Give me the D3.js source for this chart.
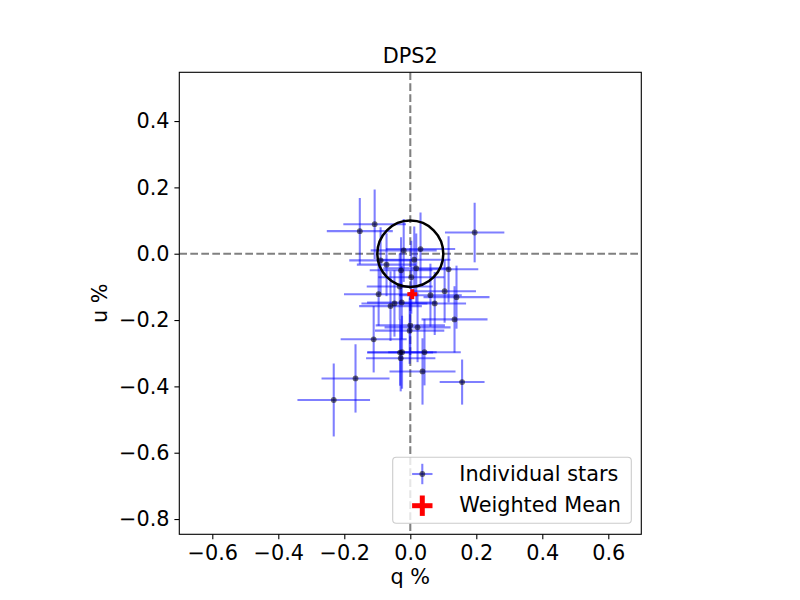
<!DOCTYPE html>
<html>
<head>
<meta charset="utf-8">
<script src="https://cdn.jsdelivr.net/npm/d3@7"></script>
<style>
  body { margin: 0; background: #fff; }
  text { font-family: "DejaVu Sans", sans-serif; }
</style>
</head>
<body>
<div id="chart"></div>
<script>
// star polarisation values (q %, u %) with 1-sigma errors
var qVals = [-0.108, -0.153, 0.195, -0.020, 0.031, -0.090, -0.072, 0.012, 0.018, -0.028,
             0.003, 0.116, -0.096, 0.104, 0.061, 0.140, -0.032, -0.060, -0.048, -0.026,
             0.074, 0.134, 0.000, 0.022, -0.002, -0.111, -0.031, -0.025, 0.043, -0.029,
             0.037, 0.157, -0.166, -0.232];
var uVals = [0.089, 0.068, 0.064, 0.010, 0.014, -0.020, -0.033, -0.018, -0.044, -0.050,
             -0.071, -0.047, -0.122, -0.113, -0.125, -0.131, -0.099, -0.158, -0.150, -0.147,
             -0.150, -0.198, -0.216, -0.222, -0.232, -0.258, -0.298, -0.297, -0.297, -0.315,
             -0.355, -0.387, -0.376, -0.441];
var qErr = [0.095, 0.100, 0.090, 0.100, 0.105, 0.095, 0.090, 0.110, 0.100, 0.095,
            0.100, 0.090, 0.105, 0.095, 0.095, 0.100, 0.100, 0.095, 0.100, 0.105,
            0.095, 0.100, 0.105, 0.100, 0.105, 0.100, 0.100, 0.105, 0.110, 0.105,
            0.100, 0.068, 0.103, 0.110];
var uErr = [0.105, 0.100, 0.090, 0.095, 0.110, 0.100, 0.095, 0.100, 0.105, 0.100,
            0.110, 0.100, 0.095, 0.095, 0.095, 0.095, 0.100, 0.105, 0.100, 0.110,
            0.095, 0.100, 0.100, 0.105, 0.100, 0.100, 0.100, 0.110, 0.100, 0.100,
            0.100, 0.068, 0.103, 0.110];

var meanQ = [0.006], meanU = [-0.122], meanErr = [0.015];
var circleR = 0.1;

var xTicks = [-0.6, -0.4, -0.2, 0.0, 0.2, 0.4, 0.6];
var yTicks = [-0.8, -0.6, -0.4, -0.2, 0.0, 0.2, 0.4];

var margin = {top: 72.3, left: 179.3},
    width = 462, height = 462;

var fs = 20.8;

var svg = d3.select('#chart')
  .append('svg')
    .attr('width', 800)
    .attr('height', 600);

var g = svg.append('g')
  .attr('transform', 'translate(' + margin.left + ',' + margin.top + ')');

var x = d3.scaleLinear().domain([-0.7, 0.7]).range([0, width]);
var y = d3.scaleLinear().domain([-0.846, 0.547]).range([height, 0]);

function fmt(v) { return d3.format('.1f')(v).replace('-', '\u2212'); }

var clip = g.append('clipPath').attr('id', 'clip')
  .append('rect').attr('width', width).attr('height', height);

var plot = g.append('g').attr('clip-path', 'url(#clip)');

// reference lines
plot.append('line')
  .attr('x1', x(0)).attr('x2', x(0)).attr('y1', 0).attr('y2', height)
  .attr('stroke', '#808080').attr('stroke-width', 2.08).attr('stroke-dasharray', '7.7,3.3');
plot.append('line')
  .attr('x1', 0).attr('x2', width).attr('y1', y(0)).attr('y2', y(0))
  .attr('stroke', '#808080').attr('stroke-width', 2.08).attr('stroke-dasharray', '7.7,3.3');

var data = qVals.map(function(q, i) {
  return {q: q, u: uVals[i], eq: qErr[i], eu: uErr[i]};
});

// error bars
data.forEach(function(d) {
  plot.append('line')
    .attr('x1', x(d.q - d.eq)).attr('x2', x(d.q + d.eq))
    .attr('y1', y(d.u)).attr('y2', y(d.u))
    .attr('stroke', 'blue').attr('stroke-opacity', 0.5).attr('stroke-width', 2.08);
  plot.append('line')
    .attr('x1', x(d.q)).attr('x2', x(d.q))
    .attr('y1', y(d.u - d.eu)).attr('y2', y(d.u + d.eu))
    .attr('stroke', 'blue').attr('stroke-opacity', 0.5).attr('stroke-width', 2.08);
});

plot.selectAll('circle.star')
  .data(data)
  .enter()
  .append('circle')
  .attr('class', 'star')
  .attr('cx', function(d) { return x(d.q); })
  .attr('cy', function(d) { return y(d.u); })
  .attr('r', 2.9)
  .attr('fill', 'black')
  .attr('fill-opacity', 0.55);

// 0.1 % circle
plot.append('ellipse')
  .attr('cx', x(0)).attr('cy', y(0))
  .attr('rx', x(circleR) - x(0)).attr('ry', y(0) - y(circleR))
  .attr('fill', 'none').attr('stroke', 'black').attr('stroke-width', 2.5);

// weighted mean
plot.append('line')
  .attr('x1', x(meanQ[0] - meanErr[0])).attr('x2', x(meanQ[0] + meanErr[0]))
  .attr('y1', y(meanU[0])).attr('y2', y(meanU[0]))
  .attr('stroke', 'red').attr('stroke-width', 4);
plot.append('line')
  .attr('x1', x(meanQ[0])).attr('x2', x(meanQ[0]))
  .attr('y1', y(meanU[0] - meanErr[0])).attr('y2', y(meanU[0] + meanErr[0]))
  .attr('stroke', 'red').attr('stroke-width', 4);

// axes
var xAxis = g.append('g')
  .attr('transform', 'translate(0,' + height + ')')
  .call(d3.axisBottom(x).tickValues(xTicks).tickFormat(fmt).tickSizeOuter(0).tickSize(4.9).tickPadding(4.9));
var yAxis = g.append('g')
  .call(d3.axisLeft(y).tickValues(yTicks).tickFormat(fmt).tickSizeOuter(0).tickSize(4.9).tickPadding(4.9));

[xAxis, yAxis].forEach(function(a) {
  a.select('.domain').remove();
  a.selectAll('line').attr('stroke', 'black').attr('stroke-width', 1.1);
  a.selectAll('text').attr('font-size', fs).attr('fill', 'black')
    .attr('font-family', '"DejaVu Sans", sans-serif');
});
xAxis.selectAll('text').attr('dy', '0.76em');

g.append('rect')
  .attr('width', width).attr('height', height)
  .attr('fill', 'none').attr('stroke', 'black').attr('stroke-width', 1.1);

// labels
svg.append('text')
  .attr('x', margin.left + width / 2).attr('y', 63.3)
  .attr('text-anchor', 'middle').attr('font-size', fs)
  .text('DPS2');
svg.append('text')
  .attr('x', margin.left + width / 2).attr('y', 584)
  .attr('text-anchor', 'middle').attr('font-size', fs)
  .text('q %');
svg.append('text')
  .attr('transform', 'translate(107,' + (margin.top + height / 2) + ') rotate(-90)')
  .attr('text-anchor', 'middle').attr('font-size', fs)
  .text('u %');

// legend
var leg = svg.append('g');
leg.append('rect')
  .attr('x', 392.7).attr('y', 457.3).attr('width', 238.6).attr('height', 66)
  .attr('rx', 3.5)
  .attr('fill', 'white').attr('fill-opacity', 0.8)
  .attr('stroke', '#cccccc').attr('stroke-width', 1.1);

var lx = 422.3;
var ly1 = 474, ly2 = 505.7;
leg.append('line').attr('x1', lx - 10.2).attr('x2', lx + 10.2).attr('y1', ly1).attr('y2', ly1)
  .attr('stroke', 'blue').attr('stroke-opacity', 0.5).attr('stroke-width', 2.08);
leg.append('line').attr('x1', lx).attr('x2', lx).attr('y1', ly1 - 10.2).attr('y2', ly1 + 10.2)
  .attr('stroke', 'blue').attr('stroke-opacity', 0.5).attr('stroke-width', 2.08);
leg.append('circle').attr('cx', lx).attr('cy', ly1).attr('r', 2.9)
  .attr('fill', 'black').attr('fill-opacity', 0.55);
leg.append('line').attr('x1', lx - 10.2).attr('x2', lx + 10.2).attr('y1', ly2).attr('y2', ly2)
  .attr('stroke', 'red').attr('stroke-width', 5);
leg.append('line').attr('x1', lx).attr('x2', lx).attr('y1', ly2 - 10.2).attr('y2', ly2 + 10.2)
  .attr('stroke', 'red').attr('stroke-width', 5);

leg.append('text').attr('x', 459.3).attr('y', 480.7).attr('font-size', fs).text('Individual stars');
leg.append('text').attr('x', 459.3).attr('y', 511.5).attr('font-size', fs).text('Weighted Mean');
</script>
</body>
</html>
